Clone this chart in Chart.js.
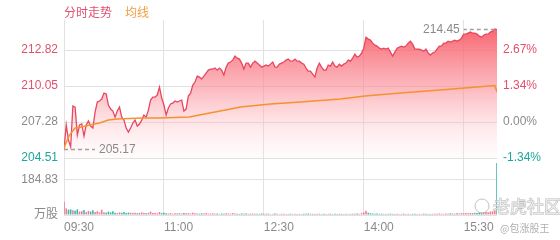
<!DOCTYPE html>
<html>
<head>
<meta charset="utf-8">
<script src="https://cdn.jsdelivr.net/npm/chart.js@4.4.1/dist/chart.umd.min.js"></script>
<style>
  html, body { margin: 0; padding: 0; background: #fff; }
  #wrap { position: relative; width: 560px; height: 240px; }
  .legend { position: absolute; top: 3px; left: 64px; font: 12px 'Noto Sans CJK SC', sans-serif; }
  .legend span { margin-right: 13px; }
</style>
</head>
<body>
<div id="wrap">
  <canvas id="chart"></canvas>
  <div class="legend"><span style="color:#e2506e">分时走势</span><span style="color:#f0a040">均线</span></div>
</div>
<script>
// --- data ---
const prevClose = 207.28;
const STEP = 2; // minutes between price / volume samples, from 09:30

const prices = [
  205.17, 207.05, 205.90, 205.36, 208.51, 208.43, 206.28, 207.05, 207.13, 206.20,
  207.05, 207.36, 206.97, 206.82, 208.05, 208.82, 208.90, 209.05, 209.51, 209.44,
  208.59, 208.28, 208.13, 207.66, 208.13, 208.43, 207.66, 207.43, 206.82, 206.51,
  206.82, 207.20, 207.43, 206.97, 207.13, 207.43, 207.82, 207.66, 208.20, 208.97,
  209.20, 209.20, 209.36, 209.97, 209.13, 208.59, 207.82, 208.36, 208.67, 208.74,
  208.90, 208.82, 208.90, 208.97, 208.13, 208.28, 209.28, 209.51, 210.13, 210.36,
  210.82, 210.74, 210.59, 210.82, 211.05, 211.28, 211.36, 211.36, 211.44, 211.28,
  211.44, 211.28, 210.90, 211.51, 211.82, 211.90, 212.05, 212.36, 212.20, 212.13,
  211.82, 211.36, 211.82, 211.82, 211.51, 211.82, 211.97, 211.82, 211.67, 211.51,
  211.59, 211.67, 211.59, 211.74, 211.90, 211.51, 211.51, 211.74, 211.82, 211.90,
  212.05, 212.13, 211.97, 211.97, 212.13, 211.97, 211.97, 211.82, 211.74, 211.44,
  211.20, 211.20, 210.97, 210.74, 211.44, 211.82, 211.51, 211.28, 211.28, 211.67,
  211.59, 211.90, 211.59, 211.51, 211.74, 211.59, 211.74, 211.82, 212.05, 211.97,
  212.20, 212.51, 212.28, 212.36, 212.59, 212.97, 213.82, 213.67, 213.59, 213.36,
  213.20, 213.13, 212.97, 212.90, 212.97, 212.90, 212.97, 212.67, 212.36, 212.67,
  212.97, 213.05, 213.13, 213.05, 213.13, 213.36, 213.51, 213.28, 212.90, 212.90,
  212.90, 212.82, 212.74, 212.90, 212.59, 212.44, 212.59, 212.67, 212.90, 213.13,
  213.13, 213.36, 213.36, 213.51, 213.44, 213.51, 213.59, 213.51, 213.59, 213.74,
  214.05, 214.05, 214.13, 214.21, 214.13, 214.13, 214.05, 213.90, 213.82, 213.97,
  214.05, 214.05, 214.21, 214.28, 214.45, 214.40
];

// 万股
const volumes = [
  70, 35, 28, 30, 25, 22, 30, 18, 20, 26, 15, 22, 18, 25, 16, 20,
  14, 28, 15, 12, 18, 14, 20, 12, 10, 14, 12, 16, 11, 13, 12,
  10, 12, 9, 11, 14, 10, 9, 12, 18, 10, 11, 9, 16, 10, 12,
  9, 8, 10, 7, 9, 8, 10, 8, 11, 9, 10, 8, 12, 9, 8,
  7, 9, 8, 10, 7, 8, 9, 7, 8, 6, 8, 7, 9, 8, 7,
  10, 8, 7, 6, 8, 7, 9, 6, 7, 8, 6, 7, 6, 8, 7,
  6, 7, 5, 6, 8, 6, 5, 7, 6, 5, 6, 7, 5, 6, 5,
  6, 5, 7, 6, 8, 7, 6, 5, 6, 7, 5, 6, 5, 6, 7,
  5, 6, 5, 7, 6, 5, 6, 5, 6, 7, 6, 8, 6, 10, 14,
  22, 12, 9, 8, 7, 8, 6, 7, 6, 5, 6, 7, 6, 5, 6,
  5, 6, 7, 5, 6, 5, 6, 7, 5, 6, 5, 7, 6, 5, 6,
  6, 7, 6, 8, 7, 6, 8, 7, 9, 8, 7, 9, 8, 10, 9,
  10, 9, 11, 10, 12, 11, 13, 12, 14, 16, 15, 18, 20, 24, 275
];

const avgMinutes = [0, 1, 5, 10, 16, 23, 32, 40, 48, 71, 86, 113, 122, 150, 159, 186, 213, 249, 271, 303, 339, 361, 388, 390];
const avgPrices = [205.17, 205.51, 206.28, 206.82, 206.90, 207.05, 207.20, 207.43, 207.51, 207.59, 207.59, 207.66, 207.82, 208.28, 208.43, 208.67, 208.82, 209.05, 209.28, 209.51, 209.74, 209.90, 210.10, 209.60];

const timeTicks = [0, 90, 180, 270, 360];
const timeLabels = ['09:30', '11:00', '12:30', '14:00', '15:30'];
const priceTicks = [204.51, 207.28, 210.05, 212.82];
const volTicks = [0, 184.83];

// --- styling ---
const RED = '#e0506e';
const TEAL = '#1ba69e';
const GRAY = '#8a8a8a';
const GRID = '#e2e2e2';
const FONT = "'Liberation Sans', Arial, 'Noto Sans CJK SC', sans-serif";

Chart.defaults.font.family = FONT;
Chart.defaults.font.size = 12;
Chart.defaults.color = GRAY;

const tickColor = c => {
  const v = c.tick.value;
  if (v > prevClose + 0.001) return RED;
  if (v < prevClose - 0.001) return TEAL;
  return GRAY;
};

const priceData = prices.map((p, i) => ({ x: i * STEP, y: p }));
const volData = volumes.map((v, i) => ({ x: i * STEP, y: v }));
const volColors = prices.map((p, i) => (i > 0 && p < prices[i - 1]) ? 'rgba(40, 176, 166, 0.9)' : 'rgba(236, 104, 132, 0.85)');
const avgData = avgPrices.map((p, i) => ({ x: avgMinutes[i], y: p }));

// min / max markers with dashed leader
const extremeMarks = {
  id: 'extremeMarks',
  afterDatasetsDraw(chart) {
    const { ctx, scales: { x, y } } = chart;
    const lo = Math.min(...prices), hi = Math.max(...prices);
    const mark = (val, dir) => {
      const i = prices.indexOf(val);
      const px = x.getPixelForValue(i * STEP);
      const py = Math.round(y.getPixelForValue(val)) + 0.5;
      const end = px + dir * 31;
      ctx.save();
      ctx.strokeStyle = '#a0a0a0';
      ctx.lineWidth = 1.5;
      ctx.setLineDash([4, 3]);
      ctx.beginPath();
      ctx.moveTo(px, py);
      ctx.lineTo(end, py);
      ctx.stroke();
      ctx.setLineDash([]);
      ctx.fillStyle = GRAY;
      ctx.font = '12px ' + FONT;
      ctx.textBaseline = 'middle';
      ctx.textAlign = dir > 0 ? 'left' : 'right';
      ctx.fillText(val.toFixed(2), end + dir * 4, py);
      ctx.restore();
    };
    mark(lo, 1);
    mark(hi, -1);
  },
  afterDraw(chart) {
    // watermark
    const ctx = chart.ctx;
    ctx.save();
    ctx.strokeStyle = 'rgba(170,170,170,0.7)';
    ctx.lineWidth = 1;
    ctx.beginPath();
    ctx.arc(482, 206, 7, 0, Math.PI * 2);
    ctx.stroke();
    ctx.font = "17px 'Noto Sans CJK SC', sans-serif";
    ctx.textBaseline = 'middle';
    ctx.fillStyle = 'rgba(255,255,255,0.6)';
    ctx.strokeStyle = 'rgba(165,165,165,0.75)';
    ctx.strokeText('老虎社区', 493, 207);
    ctx.fillText('老虎社区', 493, 207);
    ctx.font = "10px 'Noto Sans CJK SC', sans-serif";
    ctx.fillStyle = '#b0b0b0';
    ctx.fillText('@包涨股王', 500, 228);
    ctx.restore();
  }
};

const ctx = document.getElementById('chart').getContext('2d');
new Chart(ctx, {
  type: 'line',
  data: {
    datasets: [
      {
        label: '均线',
        data: avgData,
        yAxisID: 'y',
        borderColor: '#f5922f',
        borderWidth: 1.5,
        pointRadius: 0,
        fill: false,
        order: 0
      },
      {
        label: '分时走势',
        data: priceData,
        yAxisID: 'y',
        borderColor: '#e8475f',
        borderWidth: 1.3,
        pointRadius: 0,
        fill: 'start',
        order: 1,
        backgroundColor: c => {
          const y = c.chart.scales.y;
          if (!y || !Number.isFinite(y.top) || !Number.isFinite(y.bottom) || y.bottom <= y.top) {
            return 'rgba(247, 90, 100, 0.5)';
          }
          const g = c.chart.ctx.createLinearGradient(0, y.top, 0, y.bottom);
          g.addColorStop(0, 'rgba(247, 78, 90, 0.95)');
          g.addColorStop(0.5, 'rgba(250, 140, 150, 0.6)');
          g.addColorStop(1, 'rgba(255, 228, 232, 0.15)');
          return g;
        }
      },
      {
        type: 'bar',
        label: '成交量',
        data: volData,
        yAxisID: 'yv',
        backgroundColor: volColors,
        order: 2
      }
    ]
  },
  options: {
    responsive: true,
    maintainAspectRatio: false,
    animation: false,
    layout: { padding: { top: 20, left: 0, right: 0, bottom: 0 } },
    plugins: {
      legend: { display: false },
      tooltip: { enabled: false }
    },
    scales: {
      x: {
        type: 'linear',
        min: 0,
        max: 390,
        offset: false,
        afterBuildTicks: s => { s.ticks = timeTicks.map(v => ({ value: v })); },
        afterFit: s => { s.height = 25; },
        ticks: {
          align: 'start',
          padding: 5,
          maxRotation: 0,
          autoSkip: false,
          color: GRAY,
          callback: v => timeLabels[timeTicks.indexOf(v)] || ''
        },
        grid: { color: GRID, drawTicks: false, offset: false },
        border: { display: false }
      },
      // left boxes are laid out in reverse order, so the volume pane comes first
      yv: {
        type: 'linear',
        position: 'left',
        stack: 'left',
        stackWeight: 57,
        min: 0,
        max: 301,
        afterBuildTicks: s => { s.ticks = volTicks.map(v => ({ value: v })); },
        afterFit: s => { s.width = 64; },
        ticks: { padding: 6, color: GRAY, callback: v => v === 0 ? '万股' : v.toFixed(2) },
        grid: { color: GRID, drawTicks: false },
        border: { color: GRID }
      },
      y: {
        type: 'linear',
        position: 'left',
        stack: 'left',
        stackWeight: 138,
        min: 204.51,
        max: 215.14,
        afterBuildTicks: s => { s.ticks = priceTicks.map(v => ({ value: v })); },
        afterFit: s => { s.width = 64; },
        ticks: { padding: 6, color: tickColor, callback: v => v.toFixed(2) },
        grid: { color: GRID, drawTicks: false },
        border: { color: GRID }
      },
      yr: {
        type: 'linear',
        position: 'right',
        stack: 'right',
        stackWeight: 138,
        min: 204.51,
        max: 215.14,
        afterBuildTicks: s => { s.ticks = priceTicks.map(v => ({ value: v })); },
        afterFit: s => { s.width = 63; },
        ticks: {
          padding: 6,
          color: tickColor,
          callback: v => ((v - prevClose) / prevClose * 100).toFixed(2) + '%'
        },
        grid: { display: false, drawTicks: false },
        border: { display: false }
      },
      yvr: {
        type: 'linear',
        position: 'right',
        stack: 'right',
        stackWeight: 57,
        min: 0,
        max: 301,
        afterFit: s => { s.width = 63; },
        ticks: { display: false },
        grid: { display: false, drawTicks: false },
        border: { display: false }
      }
    }
  },
  plugins: [extremeMarks]
});
</script>
</body>
</html>
